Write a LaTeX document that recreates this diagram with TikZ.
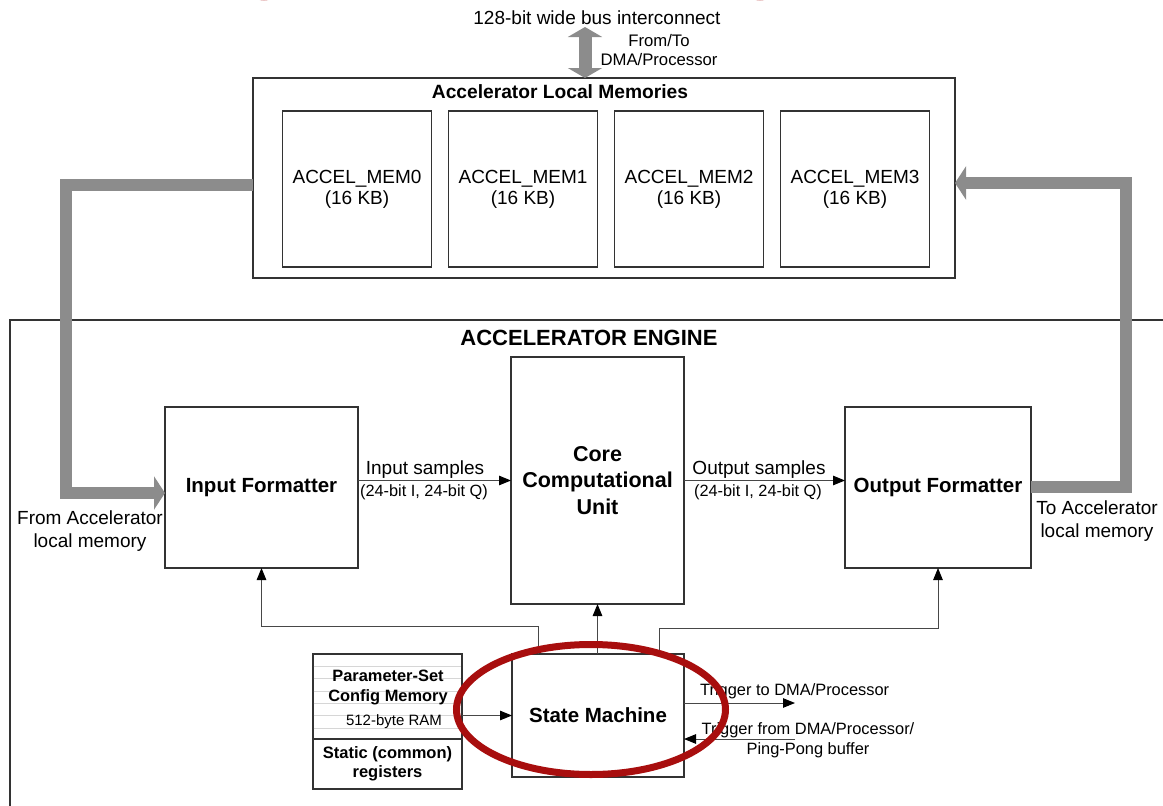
\documentclass[tikz,border=0pt]{standalone}
\usepackage{fontspec}
\setmainfont{Liberation Sans}
\usetikzlibrary{arrows.meta,calc}
\definecolor{busgray}{HTML}{8C8C8C}
\definecolor{ringred}{HTML}{A80E0E}
\definecolor{rulegray}{HTML}{D6D6D6}
\definecolor{edge}{HTML}{333333}
\tikzset{
  blk/.style={draw=edge, line width=1.1pt, fill=white, inner sep=0pt, outer sep=0pt, align=center},
  lbl/.style={inner sep=0pt, align=center},
  conn/.style={draw=black!72, line width=1pt, -{Triangle[length=12pt,width=9.5pt,color=black]}},
  bus/.style={draw=busgray, line width=12pt, -{Triangle[length=11pt,width=33pt,color=busgray]}},
  dbus/.style={draw=busgray, line width=13pt, {Triangle[length=10pt,width=34pt,color=busgray]}-{Triangle[length=10pt,width=34pt,color=busgray]}},
  ring/.style={draw=ringred, line width=7pt},
  fbig/.style={font=\fontsize{19}{23}\selectfont},
  fsmall/.style={font=\fontsize{16.4}{20}\selectfont},
  fbold/.style={font=\bfseries\fontsize{20.5}{24}\selectfont},
}
\begin{document}
\begin{tikzpicture}[x=1pt,y=-1pt]
\useasboundingbox (0,0) rectangle (1163,806);
\clip (0,0) rectangle (1163,806);

% engine enclosure, open past the right and bottom edges
\node[blk, fill=none, minimum width=1300pt, minimum height=600pt, anchor=north west] (eng) at (10,320) {};
\node[lbl, font=\bfseries\fontsize{22}{26}\selectfont] (engt) at (589,338) {ACCELERATOR ENGINE};

% local memories
\node[blk, minimum width=702pt, minimum height=200pt] (mem) at (604,178) {};
\node[lbl, font=\bfseries\fontsize{19.2}{23}\selectfont] (memt) at (560,92) {Accelerator Local Memories};
\foreach \i/\cx in {0/357,1/523,2/689,3/855}
  \node[blk, minimum width=149pt, minimum height=156pt, font=\fontsize{19}{21}\selectfont] (m\i) at (\cx,189) {ACCEL\_MEM\i\\(16 KB)};

% bus interconnect
\node[lbl, fbig] (bust) at (597,18) {128-bit wide bus interconnect};
\node[lbl, font=\fontsize{16.7}{19}\selectfont] (busside) at (659,50) {From/To\\DMA/Processor};
\coordinate (busend) at (585,27);
\draw[dbus] (busend) -- (busend |- mem.north);

% datapath blocks
\node[blk, fbold, minimum width=193pt, minimum height=161pt] (inf) at (261.5,487.5) {Input Formatter};
\node[blk, font=\bfseries\fontsize{21.5}{26.5}\selectfont, minimum width=173pt, minimum height=247pt] (ccu) at (597.5,480.5) {Core\\Computational\\Unit};
\node[blk, fbold, minimum width=186pt, minimum height=161pt] (outf) at (938,487.5) {Output Formatter};
\node[blk, fbold, minimum width=172pt, minimum height=123pt] (sm) at (598,715.5) {State Machine};

% parameter memory and static registers
\node[blk, minimum width=149pt, minimum height=85pt, anchor=north west] (pcm) at (313,654) {};
\foreach \yy in {666,678.5,691,703,715.5,728}
  \draw[rulegray, line width=1pt] (313.6,\yy) -- (461.4,\yy);
\node[lbl, font=\bfseries\fontsize{16.4}{20}\selectfont] (pcmt) at (388,688) {Parameter-Set\\Config Memory};
\node[lbl, font=\fontsize{15}{18}\selectfont] (ramt) at (394,722) {512-byte RAM};
\node[blk, minimum width=149pt, minimum height=50pt, anchor=north west, font=\bfseries\fontsize{16.5}{19}\selectfont] (stat) at (313,739) {Static (common)\\registers};

% sample paths
\draw[conn] (inf.east |- ccu.west) -- (ccu.west);
\draw[conn] (ccu.east) -- (outf.west |- ccu.east);
\node[lbl, fbig] (inl) at (425,470) {Input samples};
\node[lbl, font=\fontsize{16.3}{19}\selectfont] (inl2) at (424,492) {(24-bit I, 24-bit Q)};
\node[lbl, fbig] (outl) at (759,470) {Output samples};
\node[lbl, font=\fontsize{16.3}{19}\selectfont] (outl2) at (758,492) {(24-bit I, 24-bit Q)};

% wide paths to and from the local memories
\draw[bus] ($(mem.west)+(0,7)$) -- (66,185) |- ($(inf.west)+(0,5.5)$);
\draw[bus] ($(outf.east)+(0,-0.5)$) -- (1126,487) |- ($(mem.east)+(0,5)$);
\node[lbl, fbig] (froml) at (90,531) {From Accelerator\\local memory};
\node[lbl, fbig] (tol) at (1097,521) {To Accelerator\\local memory};

% control from the state machine
\draw[conn] ($(sm.north west)+(26,0)$) -- ++(0,-28) -| (inf.south);
\draw[conn] (sm.north -| ccu.south) -- (ccu.south);
\draw[conn] ($(sm.north east)+(-25,0)$) -- ++(0,-26) -| (outf.south);
\draw[conn] (sm.west -| pcm.east) -- (sm.west);

% triggers
\coordinate (tout) at (795,703);
\coordinate (tin) at (795,739);
\draw[conn] (sm.east |- tout) -- (tout);
\draw[conn] (tin) -- (sm.east |- tin);
\node[lbl, fsmall, anchor=west] (toutl) at (700,691) {Trigger to DMA/Processor};
\node[lbl, fsmall] (tinl) at (808,740) {Trigger from DMA/Processor/\\Ping-Pong buffer};

% highlight rings
\draw[ring] (591,709.5) ellipse [x radius=134.5, y radius=65];
\draw[ring, draw=ringred!55, line width=3pt] (264,-15) ellipse [x radius=16, y radius=14];
\draw[ring, draw=ringred!55, line width=3pt] (760,-15) ellipse [x radius=16, y radius=14];
\end{tikzpicture}
\end{document}
